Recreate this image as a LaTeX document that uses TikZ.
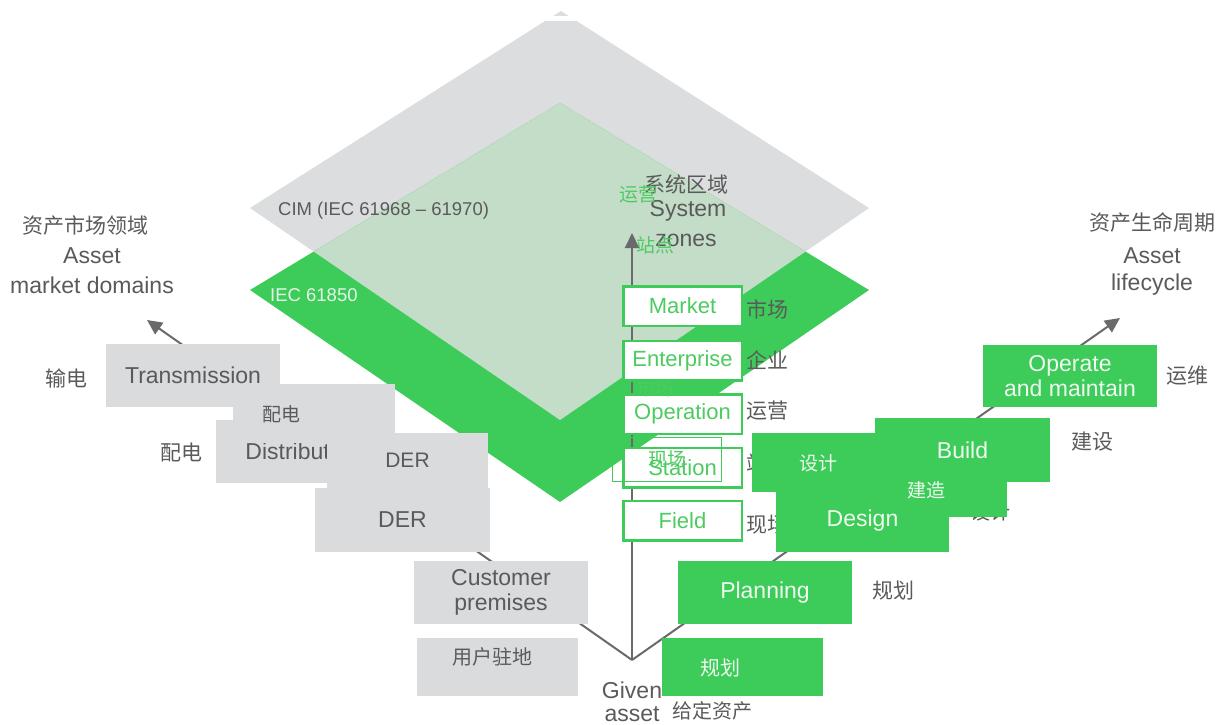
\documentclass[tikz,border=0pt]{standalone}
\usepackage{fontspec}
\setmainfont{Liberation Sans}
\newfontfamily\cjk{Noto Sans CJK SC}
\usetikzlibrary{arrows.meta}
\definecolor{kgray}{HTML}{DCDDDE}
\definecolor{grn}{HTML}{3DCC59}
\definecolor{lgrn}{HTML}{C4DDC8}
\definecolor{bgray}{HTML}{DADBDD}
\definecolor{tgray}{HTML}{5A5A5A}
\definecolor{lngray}{HTML}{6A6A6A}
\definecolor{ovgrn}{HTML}{4CCB60}
\definecolor{wtxt}{HTML}{EEF9EF}
\definecolor{iectxt}{HTML}{E6F5E8}
\begin{document}
\begin{tikzpicture}[x=1pt,y=-1pt,
  lat/.style={text=tgray,inner sep=0pt,font=\fontsize{23}{25}\selectfont},
  clbl/.style={text=tgray,inner sep=0pt,font=\cjk\fontsize{21}{23}\selectfont},
  ovtxt/.style={text=ovgrn,inner sep=0pt,font=\cjk\fontsize{19}{21}\selectfont},
  gbox/.style={fill=bgray,inner sep=0pt,outer sep=0pt,text=tgray,align=center,font=\fontsize{23}{25}\selectfont},
  gover/.style={fill=bgray,inner sep=0pt,outer sep=0pt,text=tgray},
  grbox/.style={fill=grn,inner sep=0pt,outer sep=0pt,text=wtxt,align=center,font=\fontsize{23}{25}\selectfont},
  zbox/.style={draw=grn,line width=2.5pt,fill=white,text=ovgrn,inner sep=0pt,minimum width=118.5pt,minimum height=39.5pt,font=\fontsize{22}{24}\selectfont},
  conn/.style={draw=lngray,line width=2pt},
  tip/.style={-{Triangle[length=15pt,width=14pt]}}
]
\useasboundingbox (0,0) rectangle (1220,725);
% planes
\fill[kgray] (561,11) -- (869,208) -- (560,420) -- (250,208) -- cycle;
\fill[grn] (560,103) -- (869,290) -- (560,502) -- (250,290) -- cycle;
\begin{scope}
  \clip (561,11) -- (869,208) -- (560,420) -- (250,208) -- cycle;
  \fill[lgrn] (560,103) -- (869,290) -- (560,502) -- (250,290) -- cycle;
\end{scope}
\fill[white] (530,16.5) rectangle (595,21.5);
\node[text=tgray,inner sep=0pt,anchor=west,font=\fontsize{18.5}{20}\selectfont] (cim) at (278,211) {CIM (IEC 61968 – 61970)};
\node[text=iectxt,inner sep=0pt,anchor=west,font=\fontsize{18.5}{20}\selectfont] (iec) at (270,295) {IEC 61850};

% headings
\node[clbl] (lh1) at (85,226) {资产市场领域};
\node[lat] (lh2) at (92,256) {Asset};
\node[lat] (lh3) at (92,285) {market domains};
\node[clbl] (rh1) at (1152,222) {资产生命周期};
\node[lat] (rh2) at (1152,256) {Asset};
\node[lat] (rh3) at (1152,285) {lifecycle};
\node[clbl] (sz1) at (686,184) {系统区域};
\node[lat] (sz2) at (688,211) {System};
\node[lat] (sz3) at (686,240) {zones};
\node[ovtxt] (ov1) at (638,194) {运营};
\node[ovtxt] (ov2) at (655,245) {站点};

% connectors
\coordinate (apex) at (632,660);
\coordinate (ztip) at (632,233);
\coordinate (ltip) at (147,320);
\coordinate (rtip) at (1120,318);
\draw[conn,tip] (apex) -- (ztip);
\draw[conn,tip] (apex) -- (ltip);
\draw[conn,tip] (apex) -- (rtip);

% system zones
\node[zbox] (market) at (682.5,306) {Market};
\node[zbox] (enter) at (682.5,360.5) {Enterprise};
\node[zbox] (oper) at (682.5,414) {Operation};
\node[zbox] (stat) at (682.5,467.5) {Station};
\node[zbox] (field) at (682.5,520.5) {Field};
\node[ovtxt,font=\cjk\fontsize{18}{20}\selectfont] (ov3) at (655,389) {市场};
\node[draw=grn,line width=1.3pt,inner sep=0pt,minimum width=109pt,minimum height=44pt,text=ovgrn,font=\cjk\fontsize{19}{21}\selectfont] (statov) at (667,459.5) {现场};
\node[clbl] (zl1) at (767,309) {市场};
\node[clbl] (zl2) at (767,360) {企业};
\node[clbl] (zl3) at (767,411) {运营};
\node[clbl] (zl4) at (767,463) {站点};
\node[clbl] (zl5) at (767,525) {现场};

% asset market domains
\node[clbl] (ml1) at (66,378) {输电};
\node[clbl] (ml2) at (181,452) {配电};
\node[gbox,minimum width=174pt,minimum height=63pt] (trans) at (193,375.5) {Transmission};
\node[gbox,minimum width=174pt,minimum height=63pt] (dist) at (303,451) {Distribution};
\node[gover,minimum width=162pt,minimum height=59pt] (distov) at (314,413.5) {};
\node[text=tgray,inner sep=0pt,font=\cjk\fontsize{19}{21}\selectfont] (distovt) at (281,414) {配电};
\node[gover,minimum width=161pt,minimum height=55pt,font=\fontsize{21}{23}\selectfont] (derov) at (407.5,460.5) {DER};
\node[gbox,minimum width=175pt,minimum height=64pt] (der) at (402.5,520) {DER};
\node[gbox,minimum width=174pt,minimum height=63pt] (cust) at (501,592.5) {Customer\\premises};
\node[gover,minimum width=161pt,minimum height=58pt] (custov) at (497.5,667) {};
\node[text=tgray,inner sep=0pt,font=\cjk\fontsize{20}{22}\selectfont] (custovt) at (492,657) {用户驻地};

% given asset
\node[lat] (giv1) at (632,690) {Given};
\node[lat] (giv2) at (632,714) {asset};
\node[clbl,font=\cjk\fontsize{20}{22}\selectfont] (giv3) at (712,711) {给定资产};

% asset lifecycle
\node[grbox,minimum width=174pt,minimum height=63pt] (plan) at (765,592.5) {Planning};
\node[grbox,minimum width=161pt,minimum height=58pt] (planov) at (742.5,667) {};
\node[text=wtxt,inner sep=0pt,font=\cjk\fontsize{20}{22}\selectfont] (planovt) at (720,668) {规划};
\node[clbl] (al1) at (893,591) {规划};
\node[clbl,font=\cjk\fontsize{20}{22}\selectfont] (al2) at (990,512) {设计};
\node[grbox,minimum width=175pt,minimum height=64pt] (build) at (962.5,450) {Build};
\node[grbox,minimum width=123pt,minimum height=59pt] (desov) at (813.5,462.5) {};
\node[grbox,minimum width=132pt,minimum height=47pt] (buildov) at (941,493.5) {};
\node[grbox,minimum width=173pt,minimum height=62pt] (design) at (862.5,521) {Design};
\node[text=wtxt,inner sep=0pt,font=\cjk\fontsize{19}{21}\selectfont] (desovt) at (818,463) {设计};
\node[text=wtxt,inner sep=0pt,font=\cjk\fontsize{19}{21}\selectfont] (buildovt) at (926,490) {建造};
\node[clbl] (al3) at (1092,442) {建设};
\node[grbox,minimum width=174pt,minimum height=62pt] (opm) at (1070,376) {Operate\\and maintain};
\node[clbl] (al4) at (1187,376) {运维};
\end{tikzpicture}
\end{document}
